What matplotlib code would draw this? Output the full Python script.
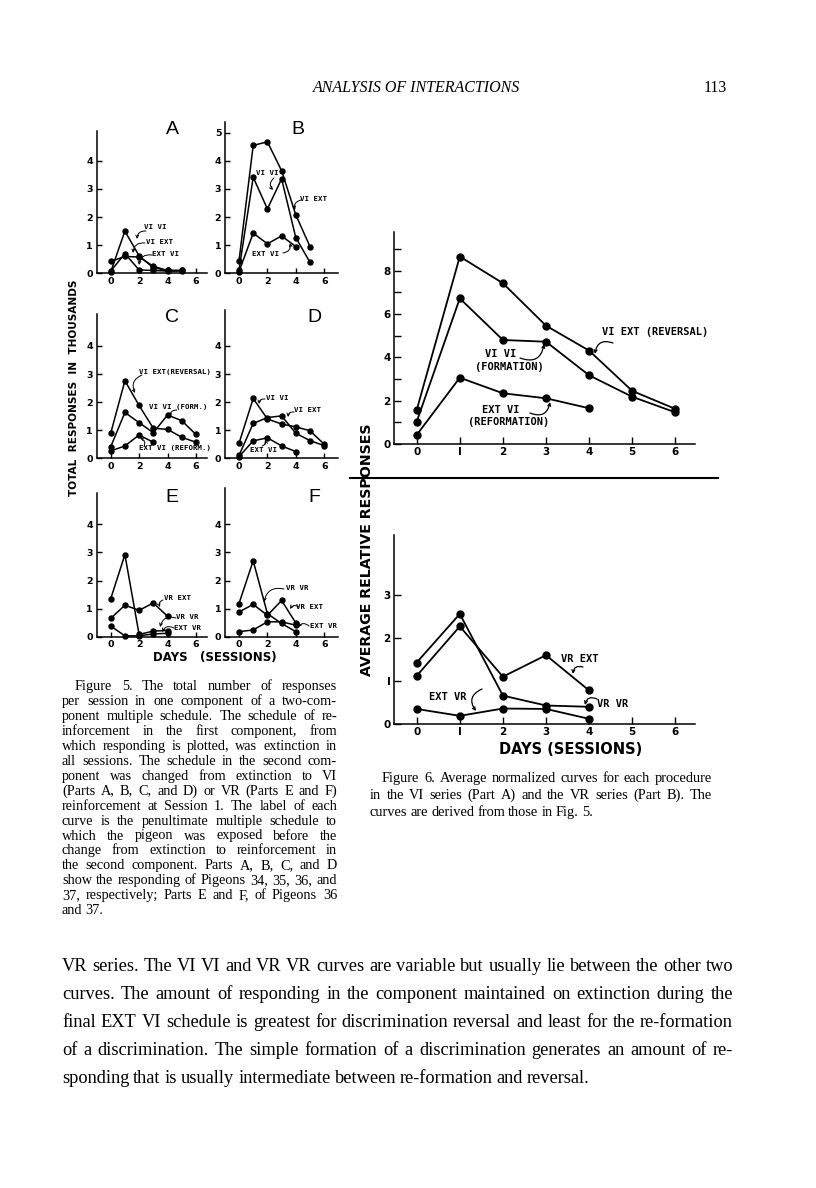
import matplotlib
matplotlib.use('Agg')
import matplotlib.pyplot as plt

W, H = 816, 1188

# ---- Figure 5 data (thousands of responses per session) ----
a_vivi = [0.05, 1.5, 0.62, 0.2, 0.1, 0.1]
a_viext = [0.42, 0.6, 0.58, 0.25, 0.1, 0.1]
a_extvi = [0.08, 0.7, 0.12, 0.1, 0.08, 0.08]

b_viext = [0.44, 4.55, 4.68, 3.65, 2.08, 0.95]
b_vivi = [0.12, 3.42, 2.29, 3.36, 1.27, 0.39]
b_extvi = [0.06, 1.43, 1.05, 1.33, 0.95]

c_rev = [0.89, 2.76, 1.88, 1.07, 1.03, 0.75, 0.57]
c_form = [0.41, 1.63, 1.27, 0.91, 1.54, 1.34, 0.85]
c_reform = [0.26, 0.44, 0.83, 0.57]

d_vivi = [0.53, 2.13, 1.40, 1.22, 1.12, 0.98, 0.50]
d_viext = [0.10, 1.24, 1.45, 1.51, 0.89, 0.63, 0.45]
d_extvi = [0.06, 0.62, 0.73, 0.44, 0.24]

e_vrvr = [1.35, 2.92, 0.08, 0.2, 0.22]
e_vrext = [0.65, 1.12, 0.94, 1.2, 0.73]
e_extvr = [0.38, 0.03, 0.03, 0.1, 0.12]

f_vrvr = [1.18, 2.7, 0.82, 0.47, 0.18]
f_vrext = [0.88, 1.15, 0.76, 1.29, 0.49]
f_extvr = [0.18, 0.24, 0.53, 0.53, 0.41]

# ---- Figure 6 data (average relative responses) ----
vi_rev = [1.57, 8.65, 7.42, 5.46, 4.31, 2.45, 1.62]
vi_form = [1.03, 6.72, 4.80, 4.72, 3.17, 2.18, 1.46]
vi_reform = [0.42, 3.06, 2.34, 2.11, 1.65]

vr_vrvr = [1.43, 2.56, 0.66, 0.43, 0.40]
vr_vrext = [1.12, 2.27, 1.10, 1.60, 0.78]
vr_extvr = [0.35, 0.19, 0.36, 0.35, 0.12]

fig5_caption = [
    "Figure 5. The total number of responses",
    "per session in one component of a two-com-",
    "ponent multiple schedule. The schedule of re-",
    "inforcement in the first component, from",
    "which responding is plotted, was extinction in",
    "all sessions. The schedule in the second com-",
    "ponent was changed from extinction to VI",
    "(Parts A, B, C, and D) or VR (Parts E and F)",
    "reinforcement at Session 1. The label of each",
    "curve is the penultimate multiple schedule to",
    "which the pigeon was exposed before the",
    "change from extinction to reinforcement in",
    "the second component. Parts A, B, C, and D",
    "show the responding of Pigeons 34, 35, 36, and",
    "37, respectively; Parts E and F, of Pigeons 36",
    "and 37.",
]
fig6_caption = [
    "Figure 6. Average normalized curves for each procedure",
    "in the VI series (Part A) and the VR series (Part B). The",
    "curves are derived from those in Fig. 5.",
]
body = [
    "VR series. The VI VI and VR VR curves are variable but usually lie between the other two",
    "curves. The amount of responding in the component maintained on extinction during the",
    "final EXT VI schedule is greatest for discrimination reversal and least for the re-formation",
    "of a discrimination. The simple formation of a discrimination generates an amount of re-",
    "sponding that is usually intermediate between re-formation and reversal.",
]

fig = plt.figure(figsize=(W / 100, H / 100), dpi=100)
page = fig.add_axes([0, 0, 1, 1])
page.set_xlim(0, W)
page.set_ylim(H, 0)
page.axis('off')

SERIF = 'Liberation Serif'
SANS = 'DejaVu Sans'
MONO = 'DejaVu Sans Mono'


def panel(left, top, right, bottom):
    return fig.add_axes([left / W, 1 - bottom / H, (right - left) / W, (bottom - top) / H])


def style(ax, xticks, yticks, size, tick_len):
    for s in ['top', 'right']:
        ax.spines[s].set_visible(False)
    for s in ['left', 'bottom']:
        ax.spines[s].set_linewidth(1.1)
    ax.tick_params(direction='in', length=tick_len, width=1.0, pad=2.5)
    ax.set_xticks(xticks, [str(t) for t in xticks], fontsize=size, fontweight='bold', family=SANS)
    ax.set_yticks(yticks, [str(t) for t in yticks], fontsize=size, fontweight='bold', family=SANS)
    ax.patch.set_visible(False)


UX, UY = 14.2, 28.1


def small_panel(x0, y0, xmax, ymax, yticks):
    ax = panel(x0 - UX, y0 - ymax * UY, x0 + xmax * UX, y0)
    ax.set_xlim(-1, xmax)
    ax.set_ylim(0, ymax)
    style(ax, [0, 2, 4, 6], yticks, 6.8, 3.5)
    return ax


def curve(ax, ys, ms=3.6, lw=1.1):
    ax.plot(range(len(ys)), ys, color='black', lw=lw, marker='o', ms=ms, clip_on=False)


def label(x, y, s, size=5.3):
    page.text(x, y, s, fontsize=size, family=MONO, fontweight='bold', ha='center', va='center')


def squiggle(x1, y1, x2, y2, rad=0.5, lw=0.7):
    page.annotate('', xy=(x2, y2), xytext=(x1, y1),
                  arrowprops=dict(arrowstyle='->', lw=lw, shrinkA=0, shrinkB=0,
                                  connectionstyle='arc3,rad=%s' % rad, mutation_scale=5))


# ---- Figure 5 panels ----
ax = small_panel(110.7, 273.3, 6.8, 5.05, [0, 1, 2, 3, 4])
for ys in (a_vivi, a_viext, a_extvi):
    curve(ax, ys)
ax = small_panel(239, 273.3, 7.0, 5.4, [0, 1, 2, 3, 4, 5])
for ys in (b_viext, b_vivi, b_extvi):
    curve(ax, ys)
ax = small_panel(110.7, 458.3, 6.8, 5.14, [0, 1, 2, 3, 4])
for ys in (c_rev, c_form, c_reform):
    curve(ax, ys)
ax = small_panel(239, 458.3, 7.0, 5.26, [0, 1, 2, 3, 4])
for ys in (d_vivi, d_viext, d_extvi):
    curve(ax, ys)
ax = small_panel(110.7, 636.7, 6.8, 5.12, [0, 1, 2, 3, 4])
for ys in (e_vrvr, e_vrext, e_extvr):
    curve(ax, ys)
ax = small_panel(239, 636.7, 7.0, 5.3, [0, 1, 2, 3, 4])
for ys in (f_vrvr, f_vrext, f_extvr):
    curve(ax, ys)

for letter, x, y in [('A', 172, 130), ('B', 298, 130), ('C', 172, 318),
                     ('D', 314, 318), ('E', 172, 497), ('F', 314, 497)]:
    page.text(x, y, letter, fontsize=14, family='Liberation Sans', ha='center', va='center')

label(155, 227, 'VI VI')
label(159, 242, 'VI EXT')
label(166, 254, 'EXT VI')
squiggle(146, 231, 137, 239)
squiggle(145, 243, 133, 253)
squiggle(152, 255, 139, 265)

label(267, 173, 'VI VI')
label(313, 199, 'VI EXT')
label(265, 254, 'EXT VI')
squiggle(274, 178, 273, 190)
squiggle(301, 200, 295, 210)
squiggle(283, 253, 290, 243)

label(175, 372, 'VI EXT(REVERSAL)')
label(178, 407, 'VI VI (FORM.)')
label(175, 448, 'EXT VI (REFORM.)')
squiggle(142, 375, 135, 393)
squiggle(177, 410, 170, 417)
squiggle(144, 447, 140, 438)

label(277, 398, 'VI VI')
label(308, 410, 'VI EXT')
label(263, 450, 'EXT VI')
squiggle(265, 399, 259, 404)
squiggle(294, 412, 288, 417)
squiggle(262, 446, 265, 440)

label(177, 598, 'VR EXT')
label(187, 617, 'VR VR')
label(188, 628, 'EXT VR')
squiggle(163, 600, 160, 607)
squiggle(176, 618, 160, 627)
squiggle(174, 628, 162, 632)

label(297, 588, 'VR VR')
label(310, 607, 'VR EXT')
label(323, 626, 'EXT VR')
squiggle(284, 589, 264, 602)
squiggle(299, 607, 290, 609)
squiggle(309, 626, 298, 627)

page.text(74, 388, 'TOTAL  RESPONSES  IN  THOUSANDS', rotation=90, fontsize=7.6,
          fontweight='bold', family=SANS, ha='center', va='center')
page.text(215, 658, 'DAYS   (SESSIONS)', fontsize=8.5, fontweight='bold', family=SANS,
          ha='center', va='center')

# ---- Figure 6 ----
X0, UX6 = 416.7, 43.1
ax = panel(X0 - 0.52 * UX6, 444 - 9.8 * 21.67, X0 + 6.46 * UX6, 444)
ax.set_xlim(-0.52, 6.46)
ax.set_ylim(0, 9.8)
style(ax, [0, 1, 2, 3, 4, 5, 6], [0, 2, 4, 6, 8], 7.5, 5)
ax.set_yticks([1, 3, 5, 7, 9], minor=True)
ax.tick_params(which='minor', direction='in', length=5, width=1.0)
ax.set_xticklabels(['0', 'I', '2', '3', '4', '5', '6'])
for ys in (vi_rev, vi_form, vi_reform):
    curve(ax, ys, ms=5, lw=1.3)

ax = panel(X0 - 0.52 * UX6, 724 - 4.4 * 43, X0 + 6.46 * UX6, 724)
ax.set_xlim(-0.52, 6.46)
ax.set_ylim(0, 4.4)
style(ax, [0, 1, 2, 3, 4, 5, 6], [0, 1, 2, 3], 7.5, 5)
ax.set_xticklabels(['0', 'I', '2', '3', '4', '5', '6'])
ax.set_yticklabels(['0', 'I', '2', '3'])
for ys in (vr_vrvr, vr_vrext, vr_extvr):
    curve(ax, ys, ms=5, lw=1.3)

label(655, 332, 'VI EXT (REVERSAL)', 7.5)
label(501, 354, 'VI VI', 7.5)
label(509, 367, '(FORMATION)', 7.5)
label(501, 410, 'EXT VI', 7.5)
label(509, 422, '(REFORMATION)', 7.5)
squiggle(613, 343, 595, 354, 0.6, 0.9)
squiggle(520, 358, 544, 344, 0.6, 0.9)
squiggle(530, 413, 550, 402, 0.6, 0.9)

label(580, 659, 'VR EXT', 7.5)
label(448, 697, 'EXT VR', 7.5)
label(613, 704, 'VR VR', 7.5)
squiggle(583, 667, 573, 674, 0.6, 0.9)
squiggle(482, 689, 476, 711, 0.6, 0.9)
squiggle(597, 699, 585, 705, 0.6, 0.9)

page.plot([350, 718], [478, 478], color='black', lw=1.5)
page.text(367, 550, 'AVERAGE RELATIVE RESPONSES', rotation=90, fontsize=10.2,
          fontweight='bold', family=SANS, ha='center', va='center')
page.text(571, 750, 'DAYS (SESSIONS)', fontsize=10.5, fontweight='bold', family=SANS,
          ha='center', va='center')

# ---- page text ----
page.text(417, 88, 'ANALYSIS OF INTERACTIONS', fontsize=11.5, family=SERIF, style='italic',
          ha='center', va='center')
page.text(715, 88, '113', fontsize=11.5, family=SERIF, ha='center', va='center')

renderer = fig.canvas.get_renderer()


def justify(lines, left, right, y, step, size, indent=0):
    for i, line in enumerate(lines):
        x = left + (indent if i == 0 else 0)
        words = line.split()
        texts = [page.text(x, y + i * step, w, fontsize=size, family=SERIF, va='baseline')
                 for w in words]
        widths = [t.get_window_extent(renderer).width for t in texts]
        if i == len(lines) - 1:
            gap = size * 0.3
        else:
            gap = max((right - x - sum(widths)) / (len(words) - 1), 1.0)
        for t, w in zip(texts, widths):
            t.set_x(x)
            x += w + gap


justify(fig5_caption, 62, 337, 690, 14.95, 10.3, indent=13)
justify(fig6_caption, 370, 712, 782, 17, 10.4, indent=12)
justify(body, 62, 733, 971, 28.1, 13.2)

fig.savefig('out.png', dpi=100)
